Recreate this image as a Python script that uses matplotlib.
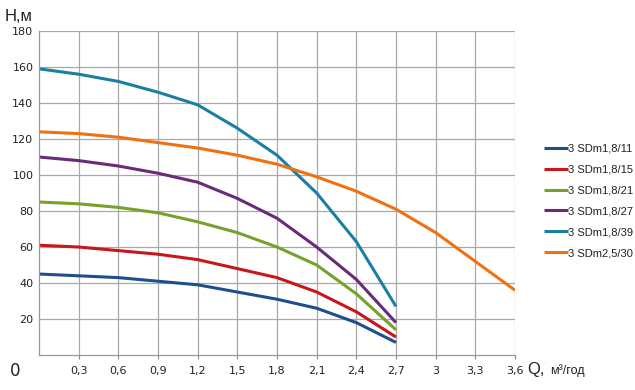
import matplotlib
matplotlib.use("Agg")
import matplotlib.pyplot as plt
import numpy as np

# flow, m3/h
q_short = [0, 0.3, 0.6, 0.9, 1.2, 1.5, 1.8, 2.1, 2.4, 2.7]
q_long = [0, 0.3, 0.6, 0.9, 1.2, 1.5, 1.8, 2.1, 2.4, 2.7, 3.0, 3.3, 3.6]

# head, m
h_11 = [45, 44, 43, 41, 39, 35, 31, 26, 18, 7]
h_15 = [61, 60, 58, 56, 53, 48, 43, 35, 24, 10]
h_21 = [85, 84, 82, 79, 74, 68, 60, 50, 34, 14]
h_27 = [110, 108, 105, 101, 96, 87, 76, 60, 42, 18]
h_39 = [159, 156, 152, 146, 139, 126, 111, 90, 63, 27]
h_2530 = [124, 123, 121, 118, 115, 111, 106, 99, 91, 81, 68, 52, 36]

names = ["3 SDm1,8/11", "3 SDm1,8/15", "3 SDm1,8/21",
         "3 SDm1,8/27", "3 SDm1,8/39", "3 SDm2,5/30"]
colors = ["#1f4e8c", "#c8161d", "#76a22c", "#6a2a78", "#1b7fa3", "#f07014"]

x_ticks = [0.3, 0.6, 0.9, 1.2, 1.5, 1.8, 2.1, 2.4, 2.7, 3.0, 3.3, 3.6]
x_labels = ["0,3", "0,6", "0,9", "1,2", "1,5", "1,8", "2,1", "2,4", "2,7", "3", "3,3", "3,6"]
y_ticks = [20, 40, 60, 80, 100, 120, 140, 160, 180]

font = "Liberation Sans"

fig = plt.figure(figsize=(6.35, 3.9), dpi=100)
ax = fig.add_axes([0.0614, 0.0897, 0.7496, 0.8308])

series = [(q_short, h_11), (q_short, h_15), (q_short, h_21),
          (q_short, h_27), (q_short, h_39), (q_long, h_2530)]
for (q, h), name, c in zip(series, names, colors):
    ax.plot(q, h, color=c, lw=2.2, label=name, solid_capstyle="butt")

ax.set_xlim(0, 3.6)
ax.set_ylim(0, 180)
ax.set_xticks(x_ticks)
ax.set_xticklabels(x_labels)
ax.set_yticks(y_ticks)
ax.tick_params(axis="both", labelsize=8, colors="#222222", length=3, width=0.8)
ax.tick_params(axis="y", length=0, pad=4)
ax.tick_params(axis="x", pad=5, color="#888888")
ax.grid(True, color="#a8a8a8", lw=0.9)
ax.set_axisbelow(True)
for side in ["top", "right"]:
    ax.spines[side].set_visible(False)
for side in ["left", "bottom"]:
    ax.spines[side].set_color("#999999")
    ax.spines[side].set_linewidth(0.9)

# axis captions
fig.text(0.008, 0.958, "Н,м", fontsize=12, family=font, color="#222222", ha="left", va="center")
fig.text(0.015, 0.05, "0", fontsize=12, color="#222222", ha="left", va="center")
fig.text(0.831, 0.052, "Q,", fontsize=12, family=font, color="#222222", ha="left", va="center")
fig.text(0.866, 0.05, "м³/год", fontsize=9, family=font, color="#222222", ha="left", va="center")

leg = fig.legend(loc="upper left", bbox_to_anchor=(0.849, 0.643), frameon=False,
                 prop={"family": font, "size": 8}, handlelength=2.2, handletextpad=0.0,
                 labelspacing=0.98, borderaxespad=0)
for t in leg.get_texts():
    t.set_color("#222222")

fig.savefig("out.png", dpi=100)
